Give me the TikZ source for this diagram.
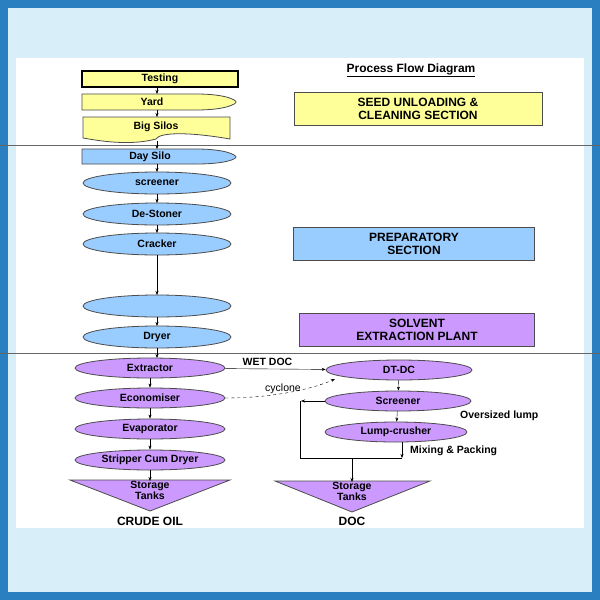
\documentclass[tikz,border=0pt]{standalone}
\usepackage{fontspec}
\setmainfont{Liberation Sans}
\usetikzlibrary{shapes.geometric,arrows.meta}
\definecolor{yel}{HTML}{FFFF99}
\definecolor{blu}{HTML}{99CCFF}
\definecolor{pur}{HTML}{CC99FF}
\definecolor{frame}{HTML}{2A7FC0}
\definecolor{lblu}{HTML}{D8EEF8}
\tikzset{
 lbl/.style={font=\fontsize{10.5}{10.5}\selectfont\bfseries,align=center,inner sep=0pt},
 ell/.style={ellipse,draw=black!70,thick,minimum width=148pt,minimum height=22pt,lbl},
 pell/.style={ell,fill=pur,minimum width=150pt,minimum height=20pt},
 bell/.style={ell,fill=blu},
 sec/.style={draw=black!70,thick,font=\fontsize{12}{13}\selectfont\bfseries,align=center},
 arr/.style={-{Stealth[length=4pt]},thin},
 tri/.style={draw=black!70,thick,fill=pur},
 sep/.style={black!60,thick}
}
\begin{document}
\begin{tikzpicture}[x=1pt,y=-1pt]
\useasboundingbox (0,0) rectangle (600,600);
\fill[frame] (0,0) rectangle (600,600);
\fill[lblu] (8,8) rectangle (592,592);
\fill[white] (16,58) rectangle (584,528);
\node[font=\fontsize{12}{12}\selectfont\bfseries] (title) at (411,70) {\underline{Process Flow Diagram}};
% left column top
\node[draw,very thick,fill=yel,minimum width=156pt,minimum height=16pt,lbl] (test) at (160,79) {Testing};
\fill[yel,draw=black!70,thick] (82,94) -- (196,94) .. controls (226,94) and (236,100) .. (236,102) .. controls (236,104) and (226,110) .. (196,110) -- (82,110) -- cycle;
\node[lbl] (yard) at (152,102) {Yard};
\fill[yel,draw=black!70,thick] (83,117) -- (230,117) -- (230,139) .. controls (190,132) and (160,132) .. (156,139) .. controls (130,146) and (100,141) .. (83,138) -- cycle;
\node[lbl] (silos) at (156,127) {Big Silos};
\draw[sep] (0,145) -- (600,145);
\fill[blu,draw=black!70,thick] (82,149) -- (196,149) .. controls (226,149) and (236,155) .. (236,157) .. controls (236,159) and (226,164) .. (196,164) -- (82,164) -- cycle;
\node[lbl] (day) at (150,157) {Day Silo};
\node[bell] (scr) at (157,183) {screener};
\node[bell] (dest) at (157,214) {De-Stoner};
\node[bell] (crack) at (157,244) {Cracker};
\node[bell] (flak) at (157,306) {};
\node[bell] (dry) at (157,337) {Dryer};
\draw[sep] (0,353) -- (600,353);
\foreach \a/\b in {87/94,110/117,141/149,164/172,194/203,225/233,255/295,317/326,348/358}
  \draw[arr] (157,\a) -- (157,\b);
% sections
\node[sec,fill=yel,minimum width=248pt,minimum height=33pt] (s1) at (418,109) {SEED UNLOADING \&\\CLEANING SECTION};
\node[sec,fill=blu,minimum width=241pt,minimum height=33pt] (s2) at (414,244) {PREPARATORY\\SECTION};
\node[sec,fill=pur,minimum width=235pt,minimum height=33pt] (s3) at (417,330) {SOLVENT\\EXTRACTION PLANT};
% bottom left
\node[pell] (ext) at (150,368) {Extractor};
\node[pell] (eco) at (150,398) {Economiser};
\node[pell] (eva) at (150,429) {Evaporator};
\node[pell] (str) at (150,460) {Stripper Cum Dryer};
\draw[arr] (ext) -- (eco);
\draw[arr] (eco) -- (eva);
\draw[arr] (eva) -- (str);
\draw[tri] (70,480) -- (230,480) -- (150,511) -- cycle;
\node[lbl,anchor=north] (t1) at (150,481) {Storage\\Tanks};
\draw[arr] (str) -- (150,481);
\node[font=\fontsize{12}{12}\selectfont\bfseries] (crude) at (150,521) {CRUDE OIL};
% bottom right
\node[pell,minimum width=146pt] (dtdc) at (399,370) {DT-DC};
\node[pell,minimum width=146pt] (scr2) at (398,401) {Screener};
\node[pell,minimum width=142pt] (lump) at (396,432) {Lump-crusher};
\draw[arr] (dtdc) -- (scr2);
\draw[arr] (scr2) -- (lump);
\draw[arr] (ext) -- node[lbl,above=3pt,xshift=-8pt] {WET DOC} (dtdc);
\draw[arr,dashed] (eco.east) .. controls (270,398) and (310,390) .. (335,379);
\node[lbl,font=\fontsize{10.5}{10.5}\selectfont] (cyc) at (283,389) {cyclone};
\coordinate (c1) at (300,458);
\coordinate (c2) at (402,458);
\coordinate (c3) at (352,458);
\draw (c2) -- (c1) -- (300,401);
\draw[arr] (scr2.west) -- (301,401);
\draw[arr] (402,442) -- (c2);
\draw[tri] (275,481) -- (430,481) -- (352,512) -- cycle;
\node[lbl,anchor=north] (t2) at (352,482) {Storage\\Tanks};
\draw[arr] (c3) -- (352,482);
\node[lbl,anchor=west] (ovs) at (460,416) {Oversized lump};
\node[lbl,anchor=west] (mix) at (410,451) {Mixing \& Packing};
\node[font=\fontsize{12}{12}\selectfont\bfseries] (doc) at (352,521) {DOC};
\end{tikzpicture}
\end{document}
